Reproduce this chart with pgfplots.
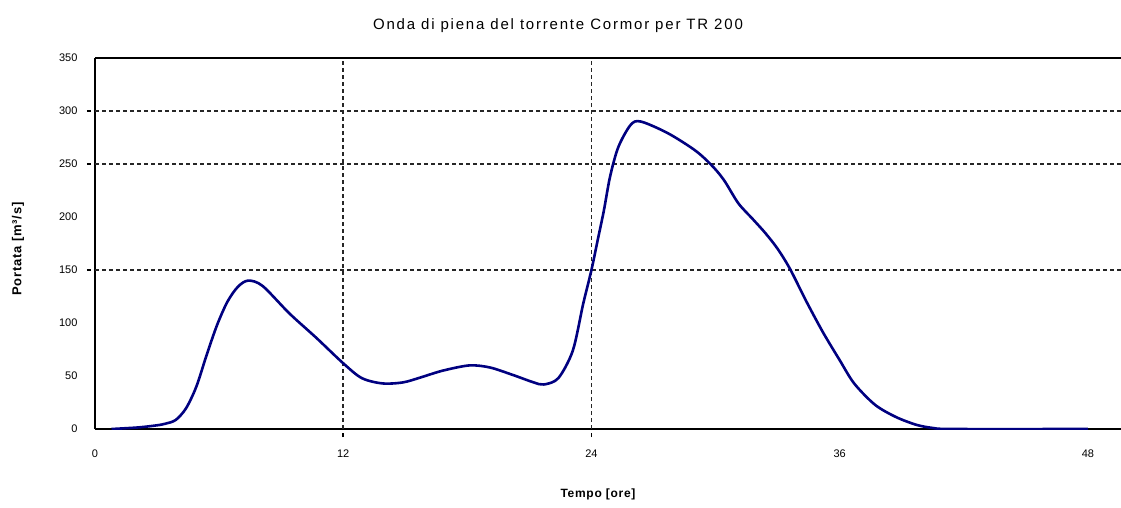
\documentclass[border=0pt]{standalone}
\usepackage{fontspec}
\setmainfont{Liberation Sans}
\newfontfamily\titlefont[LetterSpace=12]{Liberation Sans}
\newfontfamily\labfont[LetterSpace=6]{Liberation Sans}
\usepackage{pgfplots}
\pgfplotsset{compat=1.18}
\definecolor{navy}{RGB}{0,0,128}
\pgfplotstableread{
t Q
0.8 0
2.1 1.5
3.0 3.5
3.4 5
3.9 8.5
4.4 19.5
4.9 40
5.4 70
5.9 98
6.4 120
6.9 134
7.4 140
8.1 135
9.4 109
10.7 86
12.0 62
12.9 48
13.9 43
14.9 44
15.8 49
16.8 55
18.1 60
19.1 58
20.2 51
21.2 44
21.7 42
22.4 48
23.1 74
23.6 118
24.0 150
24.3 178
24.6 206
24.9 238
25.3 266
25.9 287
26.4 290
27.7 279
29.0 263
29.8 249
30.4 235
31.1 213
31.8 198
32.4 185
33.0 170
33.6 151
34.4 120
35.2 91
36.0 65
36.7 43
37.7 23
38.7 11.5
39.7 4
40.5 1
41.5 0
48.0 0
}\portata
\begin{document}
\begin{tikzpicture}
\path[use as bounding box] (-95pt,-78pt) rectangle (1026pt,429pt);
\begin{axis}[
  name=ax, at={(0pt,0pt)}, anchor=south west,
  scale only axis, width=1026pt, height=371pt,
  xmin=0, xmax=49.6, ymin=0, ymax=350,
  axis x line*=box, axis y line*=left,
  axis line style={black, line width=2.6pt},
  xtick={0,12,24,36,48}, ytick={0,50,...,350},
  major tick length=0pt,
  xtick pos=left, ytick pos=left,
  /pgf/number format/assume math mode=true,
  tick label style={font=\fontsize{11}{13}\selectfont, black},
  yticklabel style={anchor=east, xshift=-14pt},
  xticklabel style={anchor=north, yshift=-17pt},
  extra x ticks={12,24}, extra x tick labels={},
  extra y ticks={150,250,300}, extra y tick labels={},
  extra tick style={grid=major, major tick length=8pt, tick align=outside,
    tick style={black, line width=1.6pt, dash pattern=on 4pt off 3pt}},
  grid style={black!85, line width=1.6pt, dash pattern=on 4pt off 3pt},
  clip=true,
]
\addplot[navy, line width=2.6pt, smooth, tension=0.5] table[x=t, y=Q] {\portata};
\end{axis}
\node[font=\titlefont\fontsize{15}{18}\selectfont] at (463pt,403pt) {Onda di piena del torrente Cormor per TR 200};
\node[font=\labfont\bfseries\fontsize{12}{14}\selectfont] at (503pt,-65pt) {Tempo [ore]};
\node[rotate=90, font=\labfont\bfseries\fontsize{13}{15}\selectfont] at (-77pt,180pt) {Portata [m³/s]};
\end{tikzpicture}
\end{document}
